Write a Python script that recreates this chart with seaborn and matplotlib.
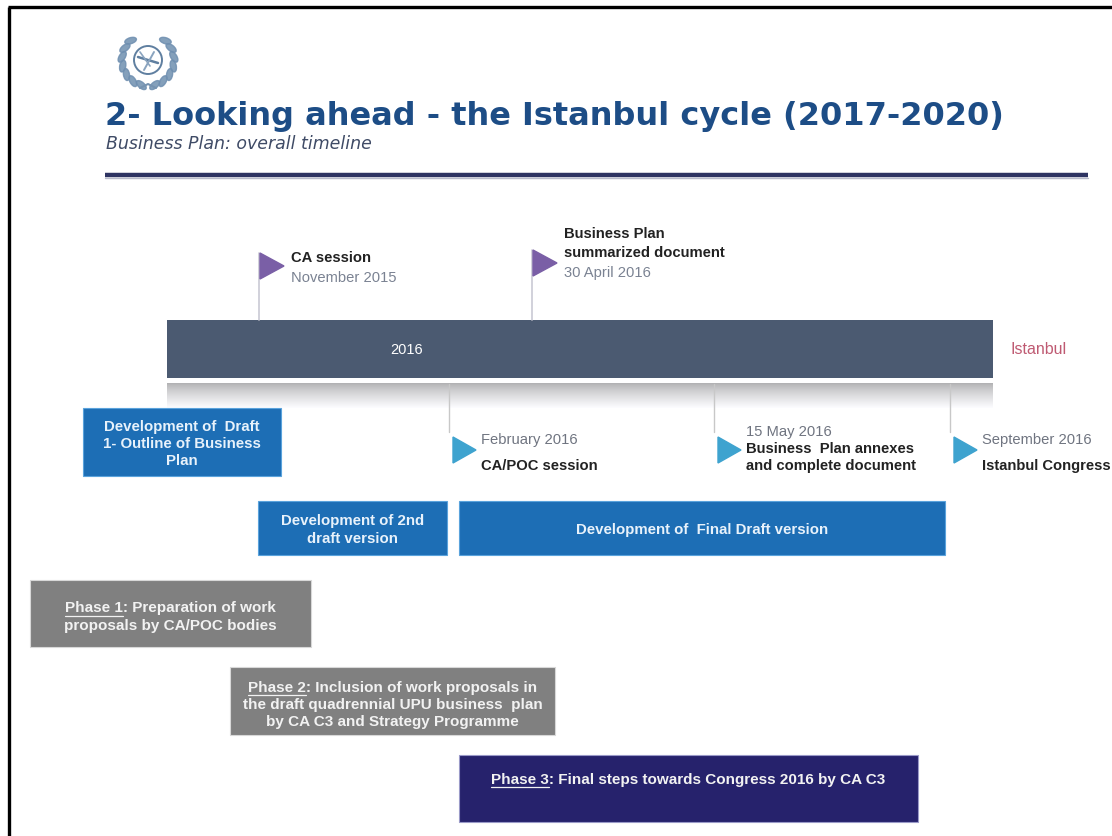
import numpy as np
import matplotlib
matplotlib.use("Agg")
import matplotlib.pyplot as plt
from matplotlib.patches import Polygon, Ellipse, Circle
import seaborn as sns

sns.set_theme(style="white")
plt.rcParams['font.family'] = ['Liberation Sans', 'DejaVu Sans']

# ---------------- data ----------------
title = "2- Looking ahead - the Istanbul cycle (2017-2020)"
subtitle = "Business Plan: overall timeline"
year_label = "2016"
end_label = "Istanbul"

top_events = ["CA session", "Business Plan\nsummarized document"]
top_dates = ["November 2015", "30 April 2016"]

bottom_events = ["CA/POC session", "Business  Plan annexes\nand complete document", "Istanbul Congress"]
bottom_dates = ["February 2016", "15 May 2016", "September 2016"]

dev_tasks = ["Development of  Draft\n1- Outline of Business\nPlan",
             "Development of 2nd\ndraft version",
             "Development of  Final Draft version"]

phase_names = ["Phase 1", "Phase 2", "Phase 3"]
phase_texts = [": Preparation of work\nproposals by CA/POC bodies",
               ": Inclusion of work proposals in\nthe draft quadrennial UPU business  plan\nby CA C3 and Strategy Programme",
               ": Final steps towards Congress 2016 by CA C3"]

# ---------------- layout (pixel-like canvas) ----------------
W, H = 1112, 836
top_x = [259, 532]
top_date_y = [278, 273]
top_flag_y = [253, 250]
bottom_x = [449, 714, 950]
dev_left = [83, 258, 459]
dev_right = [281, 447, 945]
dev_top = [408, 501, 501]
dev_bot = [476, 555, 555]
ph_left = [30, 230, 459]
ph_right = [311, 555, 918]
ph_top = [580, 667, 755]
ph_bot = [647, 735, 822]
ph_text_y = [617, 705, 780]
ph_colors = ["#808080", "#808080", "#26226c"]

fig = plt.figure(figsize=(W / 100, H / 100), dpi=100)
ax = fig.add_axes([0, 0, 1, 1])
ax.set_xlim(0, W)
ax.set_ylim(H, 0)
ax.axis("off")

# frame
ax.plot([9, 9], [7, H], color="black", lw=2.4, solid_capstyle="butt")
ax.plot([8, W], [7, 7], color="black", lw=2.4, solid_capstyle="butt")

# logo (UPU-like laurel wreath around a globe)
cx, cy, r = 148, 60, 26
for side in (-1, 1):
    for th in np.linspace(105, 228, 7):
        t = np.deg2rad(th)
        px = cx - side * r * np.cos(t)
        py = cy + r * np.sin(t)
        ax.add_patch(Ellipse((px, py), 6, 12, angle=th + 25 if side == -1 else -th - 25,
                             color="#6f8fb0", alpha=0.85))
ax.add_patch(Circle((cx, cy), 14, fill=False, ec="#5f7fa0", lw=1.4))
ax.plot([cx - 10, cx + 10], [cy - 3, cy + 3], color="#5f7fa0", lw=1.8)
ax.plot([cx - 4, cx + 6], [cy + 10, cy - 8], color="#8aa4bf", lw=1.4)
ax.plot([cx - 8, cx + 2], [cy - 8, cy + 6], color="#8aa4bf", lw=1.2)
ax.plot([cx - 8, cx, cx + 8], [cy + 28, cy + 24, cy + 28], color="#7592b0", lw=1.5)

# title
ax.text(105, 116, title, fontsize=23, fontweight="bold", color="#1d4d86",
        family=["DejaVu Sans"], va="center", ha="left")
ax.text(106, 144, subtitle, fontsize=12.5, style="italic", color="#3f4b66",
        family=["DejaVu Sans"], va="center", ha="left")
ax.plot([105, 1088], [175, 175], color="#2e3462", lw=3.2, solid_capstyle="butt")
ax.plot([105, 1088], [178, 178], color="#b9bccb", lw=1.0)

# main timeline bar
ax.barh([349], [993 - 167], left=[167], height=58, color="#4b5a71", edgecolor="none")
g = np.linspace(0, 1, 60) ** 0.8
grad = (0.70 + 0.30 * g).reshape(-1, 1)
ax.imshow(np.dstack([grad * 0.99, grad * 0.99, grad]), extent=[167, 993, 408, 383],
          aspect="auto", interpolation="bilinear", zorder=1)
ax.set_xlim(0, W); ax.set_ylim(H, 0)
ax.text(407, 350, year_label, color="white", fontsize=10.5, va="center", ha="center")
ax.text(1010, 350, end_label, color="#bf5a72", fontsize=11.5, va="center", ha="left")

# top milestones (flags)
for x, ev, dt, dy, fy in zip(top_x, top_events, top_dates, top_date_y, top_flag_y):
    ax.plot([x, x], [fy, 320], color="#c9c9d4", lw=1.2, zorder=2)
    ax.add_patch(Polygon([[x + 1, fy], [x + 1, fy + 26], [x + 25, fy + 13]], closed=True,
                         color="#7a5fa6", zorder=3))
    lines = ev.split("\n")
    for k, ln in enumerate(reversed(lines)):
        ax.text(x + 32, dy - 20 - 18.5 * k, ln, fontsize=10.6, fontweight="bold",
                color="#222222", va="center", ha="left")
    ax.text(x + 32, dy, dt, fontsize=10.6, color="#7a8292", va="center", ha="left")

# bottom milestones
for x, ev, dt in zip(bottom_x, bottom_events, bottom_dates):
    ax.plot([x, x], [384, 432], color="#c8c8c8", lw=1.0, zorder=2)
    ax.add_patch(Polygon([[x + 4, 437], [x + 4, 463], [x + 27, 450]], closed=True,
                         color="#3ea3cf", zorder=3))
    lines = ev.split("\n")
    if len(lines) == 1:
        ax.text(x + 32, 440, dt, fontsize=10.6, color="#6f7480", va="center", ha="left")
        ax.text(x + 32, 466, ev, fontsize=10.6, fontweight="bold", color="#222222",
                va="center", ha="left")
    else:
        ax.text(x + 32, 432, dt, fontsize=10.6, color="#6f7480", va="center", ha="left")
        for k, ln in enumerate(lines):
            ax.text(x + 32, 449 + 17 * k, ln, fontsize=10.6, fontweight="bold",
                    color="#222222", va="center", ha="left")

# development boxes
for l, rr, t, b, txt in zip(dev_left, dev_right, dev_top, dev_bot, dev_tasks):
    ax.barh([(t + b) / 2], [rr - l], left=[l], height=b - t, color="#1d6eb5",
            edgecolor="#5aa3dc", lw=0.8, zorder=3)
    ax.text((l + rr) / 2, (t + b) / 2 + 2, txt, fontsize=10.8, fontweight="bold",
            color="#e8f2fb", ha="center", va="center", linespacing=1.3, zorder=4)

# phase boxes
fig.canvas.draw()
renderer = fig.canvas.get_renderer()
inv = ax.transData.inverted()
for i, (l, rr, t, b, ty, nm, txt, c) in enumerate(zip(ph_left, ph_right, ph_top, ph_bot,
                                                      ph_text_y, phase_names, phase_texts,
                                                      ph_colors)):
    ax.barh([(t + b) / 2], [rr - l], left=[l], height=b - t, color=c,
            edgecolor="#d8d8d8" if i < 2 else "#9a9ac8", lw=0.8, zorder=3)
    full = nm + txt
    fs = 11
    kw = dict(fontsize=fs, fontweight="bold", color="#f2f2f2", linespacing=1.3, zorder=4)
    tx = ax.text((l + rr) / 2, ty, full, ha="center", va="center", **kw)
    first = full.split("\n")[0]
    t1 = ax.text(0, 0, first, **kw)
    t2 = ax.text(0, 0, nm, **kw)
    e1 = t1.get_window_extent(renderer)
    w1 = e1.width
    h1 = e1.height
    w2 = t2.get_window_extent(renderer).width
    t1.remove(); t2.remove()
    bb = tx.get_window_extent(renderer)
    cxp = (bb.x0 + bb.x1) / 2
    x0 = cxp - w1 / 2
    em = fs * 100 / 72
    yline = bb.y1 - h1 / 2 - 0.48 * em
    (dx0, dy), (dx1, _) = inv.transform([(x0, yline), (x0 + w2, yline)])
    ax.plot([dx0, dx1], [dy, dy], color="#f2f2f2", lw=0.9, zorder=5)

fig.savefig("out.png", dpi=100)
